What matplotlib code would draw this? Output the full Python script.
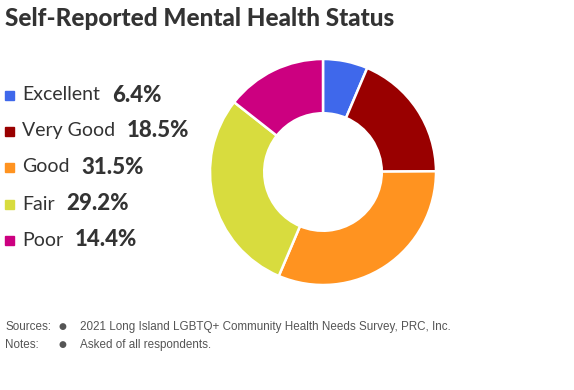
import matplotlib
matplotlib.use("Agg")
import matplotlib.pyplot as plt
from matplotlib.patches import Rectangle

# данные
categories = ['Excellent', 'Very Good', 'Good', 'Fair', 'Poor']
values = [6.4, 18.5, 31.5, 29.2, 14.4]
colors = ['#3F68EB', '#990000', '#FF9320', '#D8DC3E', '#CC0080']
title = 'Self-Reported Mental Health Status'
sources = '2021 Long Island LGBTQ+ Community Health Needs Survey, PRC, Inc.'
notes = 'Asked of all respondents.'

W, H = 574, 390
fig = plt.figure(figsize=(W / 100, H / 100), dpi=100)
fig.patch.set_facecolor('white')

def fx(px):
    return px / W

def fy(py):
    return 1 - py / H

# заголовок
fig.text(fx(5), fy(19), title, fontsize=17.5, fontweight='black', family='Lato',
         color='#333333', va='center', ha='left')

# кольцевая диаграмма
cx, cy, r = 323, 172, 113
ax = fig.add_axes([fx(cx - r), fy(cy + r), 2 * r / W, 2 * r / H])
ax.pie(values, colors=colors, startangle=90, counterclock=False, radius=1,
       wedgeprops=dict(width=0.48, edgecolor='white', linewidth=1.8))
ax.set_xlim(-1, 1)
ax.set_ylim(-1, 1)
ax.set_aspect('equal')
ax.axis('off')

# легенда
fig.canvas.draw()
renderer = fig.canvas.get_renderer()
row_y = [95, 131, 167, 204, 240]
for cat, val, col, y in zip(categories, values, colors, row_y):
    fig.patches.append(Rectangle((fx(5), fy(y + 5)), 9 / W, 9 / H,
                                 transform=fig.transFigure, color=col))
    t = fig.text(fx(22), fy(y), cat, fontsize=14, family='Lato',
                 color='#333333', va='center', ha='left')
    bb = t.get_window_extent(renderer)
    fig.text(fx(bb.x1 + 12), fy(y), f'{val}%', fontsize=16, fontweight='black',
             family='Lato', color='#333333', va='center', ha='left')

# примечания
for y, lab, txt in [(327, 'Sources:', sources), (345, 'Notes:', notes)]:
    fig.text(fx(5), fy(y), lab, fontsize=8.4, family='Liberation Sans',
             color='#555555', va='center', ha='left')
    fig.text(fx(62), fy(y), '\u25CF', fontsize=6.5, family='DejaVu Sans',
             color='#555555', va='center', ha='center')
    fig.text(fx(80), fy(y), txt, fontsize=8.4, family='Liberation Sans',
             color='#555555', va='center', ha='left')

fig.savefig('out.png', dpi=100)
